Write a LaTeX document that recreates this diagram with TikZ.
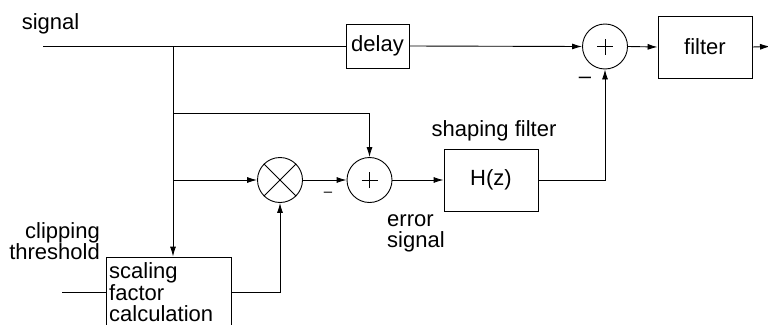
\documentclass[tikz,border=0pt]{standalone}
\usepackage{fontspec}
\setmainfont{Liberation Sans}
\usetikzlibrary{arrows.meta}
\begin{document}
\begin{tikzpicture}[x=1pt,y=-1pt,
  every node/.style={font=\fontsize{22}{21.5}\selectfont},
  blk/.style={draw,rectangle,inner sep=0pt,line width=0.9pt},
  junc/.style={draw,circle,inner sep=0pt,minimum size=45pt,line width=0.9pt},
  lbl/.style={inner sep=0pt},
  wire/.style={line width=0.9pt},
  arr/.style={wire,-{Latex[length=10pt,width=6pt]}}]
\clip (0,0) rectangle (768,324);
% nodes
\node[lbl,anchor=base] (tsig) at (50.5,29) {signal};
\coordinate (sin) at (43,46);
\node[blk,minimum width=63pt,minimum height=44pt] (delay) at (377.5,46) {delay};
\node[junc] (sum1) at (605,46.5) {};
\node[blk,minimum width=94pt,minimum height=62pt] (filter) at (705,47) {filter};
\coordinate (out) at (770,46.5);
\coordinate (b1) at (173,46);
\coordinate (b2) at (173,113);
\coordinate (b3) at (173,180);
\node[junc] (mult) at (280,180) {};
\node[junc] (sum2) at (369.5,180) {};
\node[blk,minimum width=94pt,minimum height=62pt] (hz) at (491,180) {H(z)};
\node[lbl,anchor=base] (tshape) at (494,136) {shaping filter};
\node[lbl,anchor=north west,align=left] (terr) at (387,214) {error\\signal};
\node[lbl,anchor=north east,align=right] (tclip) at (100,222) {clipping\\threshold};
\node[blk,minimum width=125pt,minimum height=84pt] (scal) at (168.5,299) {};
\node[lbl,anchor=north west,align=left] (tscal) at (109,262.5) {scaling\\factor\\calculation};
\coordinate (cin) at (62,292);
\node[lbl] (m1) at (585,80) {\fontsize{22}{22}\selectfont –};
\node[lbl] (m2) at (328,194) {\fontsize{15}{15}\selectfont –};
% symbols in junctions
\draw[wire] ([xshift=-8pt]sum1.center) -- ([xshift=8pt]sum1.center)
            ([yshift=-8pt]sum1.center) -- ([yshift=8pt]sum1.center);
\draw[wire] ([xshift=-8pt]sum2.center) -- ([xshift=8pt]sum2.center)
            ([yshift=-8pt]sum2.center) -- ([yshift=8pt]sum2.center);
\draw[wire] (mult.45) -- (mult.225) (mult.135) -- (mult.315);
% connectors
\draw[wire] (sin) -- (delay.west);
\draw[arr] (delay.east) -- (sum1.west);
\draw[arr] (sum1.east) -- (filter.west);
\draw[arr] (filter.east) -- (out);
\draw[arr] (hz.east) -- (sum1.south |- hz.east) -- (sum1.south);
\draw[arr] (b1) -- (b1 |- scal.north);
\draw[arr] (b2) -- (sum2.north |- b2) -- (sum2.north);
\draw[arr] (b3) -- (mult.west);
\draw[arr] (mult.east) -- (sum2.west);
\draw[arr] (sum2.east) -- (hz.west);
\draw[wire] (cin) -- (cin -| scal.west);
\draw[arr] (cin -| scal.east) -- (mult.south |- cin) -- (mult.south);
\end{tikzpicture}
\end{document}
